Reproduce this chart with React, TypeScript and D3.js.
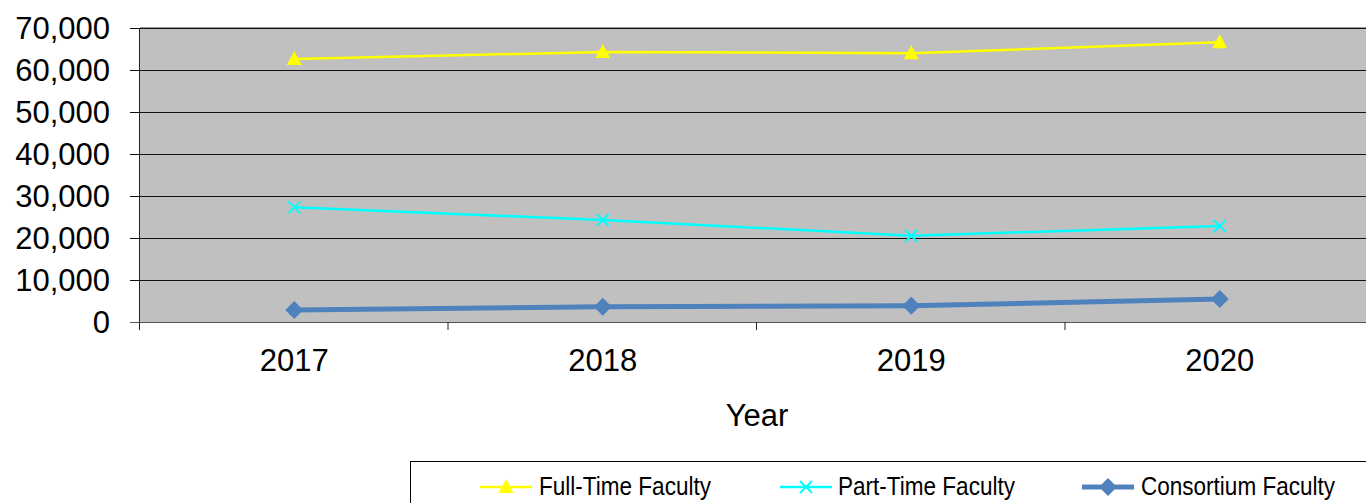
import React from 'react';
import * as d3 from 'd3';

const years = ['2017', '2018', '2019', '2020'];
const fullTime = [62600, 64300, 64000, 66600];
const partTime = [27300, 24300, 20550, 22860];
const consortium = [2860, 3650, 3880, 5480];
const yTicks = [0, 10000, 20000, 30000, 40000, 50000, 60000, 70000];

const W = 1366;
const H = 503;
const left = 140;
const right = 1374;
const top = 28;
const bottom = 322;

const series = [
    { name: 'Full-Time Faculty', values: fullTime, color: '#FFFF00', width: 2.5, marker: 'triangle' },
    { name: 'Part-Time Faculty', values: partTime, color: '#00FFFF', width: 2.5, marker: 'x' },
    { name: 'Consortium Faculty', values: consortium, color: '#4F81BD', width: 5, marker: 'diamond' }
];

const Marker = ({ type, x, y, color }) => {
    if (type === 'triangle') {
        return <path d={`M${x},${y - 8}L${x + 7.5},${y + 6}L${x - 7.5},${y + 6}Z`} fill={color} />;
    }
    if (type === 'x') {
        return (
            <path
                d={`M${x - 6},${y - 6}L${x + 6},${y + 6}M${x - 6},${y + 6}L${x + 6},${y - 6}`}
                stroke={color}
                strokeWidth={2}
            />
        );
    }
    return <path d={`M${x},${y - 9}L${x + 9},${y}L${x},${y + 9}L${x - 9},${y}Z`} fill={color} />;
};

export default function App() {
    const x = d3.scaleBand().domain(years).range([left, right]);
    const y = d3.scaleLinear().domain([0, 70000]).range([bottom, top]);
    const fmt = d3.format(',');
    const cx = (yr) => x(yr) + x.bandwidth() / 2;

    const line = d3
        .line()
        .x((d, i) => cx(years[i]))
        .y((d) => y(d));

    const legendItems = [
        { lx: 480, tx: 539 },
        { lx: 780, tx: 838 },
        { lx: 1082, tx: 1141 }
    ];
    const legendLens = [172, 177, 194];

    return (
        <svg
            width={W}
            height={H}
            style={{ position: 'absolute', left: 0, top: 0 }}
            fontFamily="'Liberation Sans', Arial, sans-serif"
        >
            <rect x={left} y={top} width={right - left} height={bottom - top} fill="#C0C0C0" />
            {yTicks.map((t) => (
                <line
                    key={t}
                    x1={left - 10}
                    x2={right}
                    y1={y(t) + 0.5}
                    y2={y(t) + 0.5}
                    stroke={t === 0 ? '#555' : '#111'}
                    strokeWidth={1}
                />
            ))}
            <line x1={left} x2={right} y1={top - 0.5} y2={top - 0.5} stroke="#999" strokeWidth={1} />
            <line x1={left - 0.5} x2={left - 0.5} y1={top} y2={bottom + 8} stroke="#222" strokeWidth={1} />
            {years.map((yr) => (
                <line
                    key={yr}
                    x1={x(yr) + x.bandwidth() - 0.5}
                    x2={x(yr) + x.bandwidth() - 0.5}
                    y1={bottom}
                    y2={bottom + 8}
                    stroke="#222"
                />
            ))}
            {yTicks.map((t) => (
                <text key={t} x={110} y={y(t) + 11} textAnchor="end" fontSize={31} fill="#000">
                    {fmt(t)}
                </text>
            ))}
            {years.map((yr) => (
                <text key={yr} x={cx(yr)} y={371} textAnchor="middle" fontSize={31} fill="#000">
                    {yr}
                </text>
            ))}
            <text x={757} y={426} textAnchor="middle" fontSize={31} fill="#000">
                Year
            </text>

            {series.map((s) => (
                <g key={s.name}>
                    <path d={line(s.values)} fill="none" stroke={s.color} strokeWidth={s.width} />
                    {s.values.map((v, i) => (
                        <Marker key={i} type={s.marker} x={cx(years[i])} y={y(v)} color={s.color} />
                    ))}
                </g>
            ))}

            <rect x={410.5} y={461.5} width={1000} height={60} fill="#fff" stroke="#000" strokeWidth={1} />
            {series.map((s, i) => {
                const it = legendItems[i];
                return (
                    <g key={s.name}>
                        <line
                            x1={it.lx}
                            x2={it.lx + 52}
                            y1={487}
                            y2={487}
                            stroke={s.color}
                            strokeWidth={s.width}
                        />
                        <Marker type={s.marker} x={it.lx + 26} y={487} color={s.color} />
                        <text
                            x={it.tx}
                            y={495}
                            fontSize={25}
                            fill="#000"
                            textLength={legendLens[i]}
                            lengthAdjust="spacingAndGlyphs"
                        >
                            {s.name}
                        </text>
                    </g>
                );
            })}
        </svg>
    );
}
